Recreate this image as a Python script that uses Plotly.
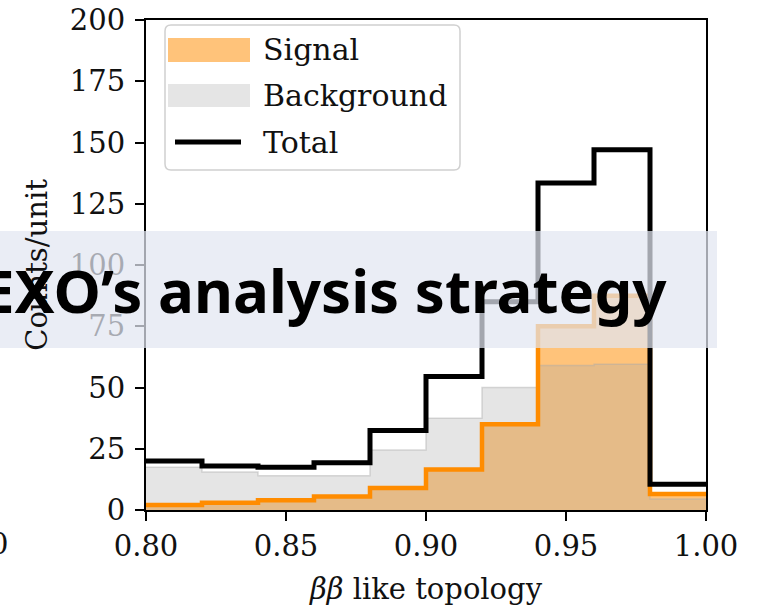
import plotly.graph_objects as go

# ---------------- data ----------------
bin_edges = [0.80, 0.82, 0.84, 0.86, 0.88, 0.90, 0.92, 0.94, 0.96, 0.98, 1.00]
signal = [2, 3, 4, 5.5, 9, 16.5, 35, 75, 87.5, 6.5]
background = [17.5, 15.5, 14, 14, 24.5, 37.5, 50, 59, 59.5, 4.5]
total = [20, 18, 17.5, 19.3, 32.5, 54.5, 85, 133.5, 147, 10.5]
x_ticks = [0.80, 0.85, 0.90, 0.95, 1.00]
y_ticks = [0, 25, 50, 75, 100, 125, 150, 175, 200]
legend_labels = ["Signal", "Background", "Total"]
banner_text = "EXO\u2019s analysis strategy"

W, H = 767, 606
ML, MR, MT, MB = 146, 61, 20, 96
PW, PH = W - ML - MR, H - MT - MB


def px(xp):
    return (xp - ML) / PW


def py(yp):
    return (H - MB - yp) / PH


def steps(vals):
    return list(vals) + [vals[-1]]


SERIF = "DejaVu Serif"
TXT = "#111111"
fig = go.Figure()

# signal fill
fig.add_trace(go.Scatter(
    x=bin_edges, y=steps(signal), mode="lines", line=dict(shape="hv", width=0),
    fill="tozeroy", fillcolor="rgba(255,140,0,0.52)", showlegend=False, hoverinfo="skip"))
# background fill
fig.add_trace(go.Scatter(
    x=bin_edges, y=steps(background), mode="lines",
    line=dict(shape="hv", width=1.5, color="rgba(170,170,170,0.45)"),
    fill="tozeroy", fillcolor="rgba(170,170,170,0.3)", showlegend=False, hoverinfo="skip"))
# signal step line
fig.add_trace(go.Scatter(
    x=bin_edges, y=steps(signal), mode="lines",
    line=dict(shape="hv", width=4.5, color="#ff8c00"), showlegend=False, hoverinfo="skip"))
# total step line
fig.add_trace(go.Scatter(
    x=bin_edges, y=steps(total), mode="lines",
    line=dict(shape="hv", width=5, color="black"), showlegend=False, hoverinfo="skip"))

shapes = []
annotations = []

# custom legend box (rounded)
x0, x1, y0, y1 = 165, 460, 25, 170
r = 6
rx, ry = r / PW, r / PH
X0, X1, Y0, Y1 = px(x0), px(x1), py(y1), py(y0)
path = (f"M {X0+rx},{Y0} L {X1-rx},{Y0} Q {X1},{Y0} {X1},{Y0+ry} "
        f"L {X1},{Y1-ry} Q {X1},{Y1} {X1-rx},{Y1} L {X0+rx},{Y1} "
        f"Q {X0},{Y1} {X0},{Y1-ry} L {X0},{Y0+ry} Q {X0},{Y0} {X0+rx},{Y0} Z")
shapes.append(dict(type="path", path=path, xref="paper", yref="paper",
                   fillcolor="rgba(255,255,255,0.8)", line=dict(color="#d0d0d0", width=1.5),
                   layer="above"))
# swatches
shapes.append(dict(type="rect", xref="paper", yref="paper", x0=px(168), x1=px(250),
                   y0=py(62), y1=py(38), fillcolor="rgba(255,140,0,0.52)", line=dict(width=0),
                   layer="above"))
shapes.append(dict(type="rect", xref="paper", yref="paper", x0=px(168), x1=px(250),
                   y0=py(107), y1=py(84), fillcolor="rgba(170,170,170,0.3)", line=dict(width=0),
                   layer="above"))
shapes.append(dict(type="line", xref="paper", yref="paper", x0=px(175), x1=px(241),
                   y0=py(142), y1=py(142), line=dict(color="black", width=5), layer="above"))
for lbl, yc in zip(legend_labels, [50, 96, 142]):
    annotations.append(dict(text=lbl, xref="paper", yref="paper", x=px(261), y=py(yc),
                            xanchor="left", yanchor="middle", showarrow=False,
                            font=dict(family=SERIF, size=30, color=TXT)))

# banner overlay
shapes.append(dict(type="rect", xref="paper", yref="paper", x0=px(0), x1=px(717),
                   y0=py(348), y1=py(231), fillcolor="rgba(226,230,241,0.72)",
                   line=dict(width=0), layer="above"))
annotations.append(dict(text=f"<b>{banner_text}</b>", xref="paper", yref="paper",
                        x=px(669), y=py(290), xanchor="right", yanchor="middle",
                        showarrow=False,
                        font=dict(family="Noto Sans", size=60, color="black")))
# stray clipped label at far left
annotations.append(dict(text="0", xref="paper", yref="paper", x=px(10), y=py(544),
                        xanchor="right", yanchor="middle", showarrow=False,
                        font=dict(family=SERIF, size=29, color=TXT)))

fig.update_layout(
    width=W, height=H,
    margin=dict(l=ML, r=MR, t=MT, b=MB, autoexpand=False),
    paper_bgcolor="white", plot_bgcolor="white",
    shapes=shapes, annotations=annotations,
    showlegend=False,
)
fig.update_xaxes(
    range=[0.8, 1.0], tickvals=x_ticks, ticktext=[f"{v:.2f}" for v in x_ticks],
    ticks="outside", ticklen=9, tickwidth=1.8, tickcolor="black",
    showline=True, linewidth=2, linecolor="black", mirror=True,
    showgrid=False, zeroline=False,
    tickfont=dict(family=SERIF, size=29, color=TXT),
    title=dict(text="<i>\u03b2\u03b2</i> like topology", standoff=18,
               font=dict(family=SERIF, size=29, color=TXT)),
    automargin=False,
)
fig.update_yaxes(
    range=[0, 200], tickvals=y_ticks,
    ticks="outside", ticklen=9, tickwidth=1.8, tickcolor="black",
    showline=True, linewidth=2, linecolor="black", mirror=True,
    showgrid=False, zeroline=False, ticklabelstandoff=4,
    tickfont=dict(family=SERIF, size=29, color=TXT),
    title=dict(text="Counts/unit", standoff=14,
               font=dict(family=SERIF, size=29, color=TXT)),
    automargin=False,
)

fig.write_html("out.html")
